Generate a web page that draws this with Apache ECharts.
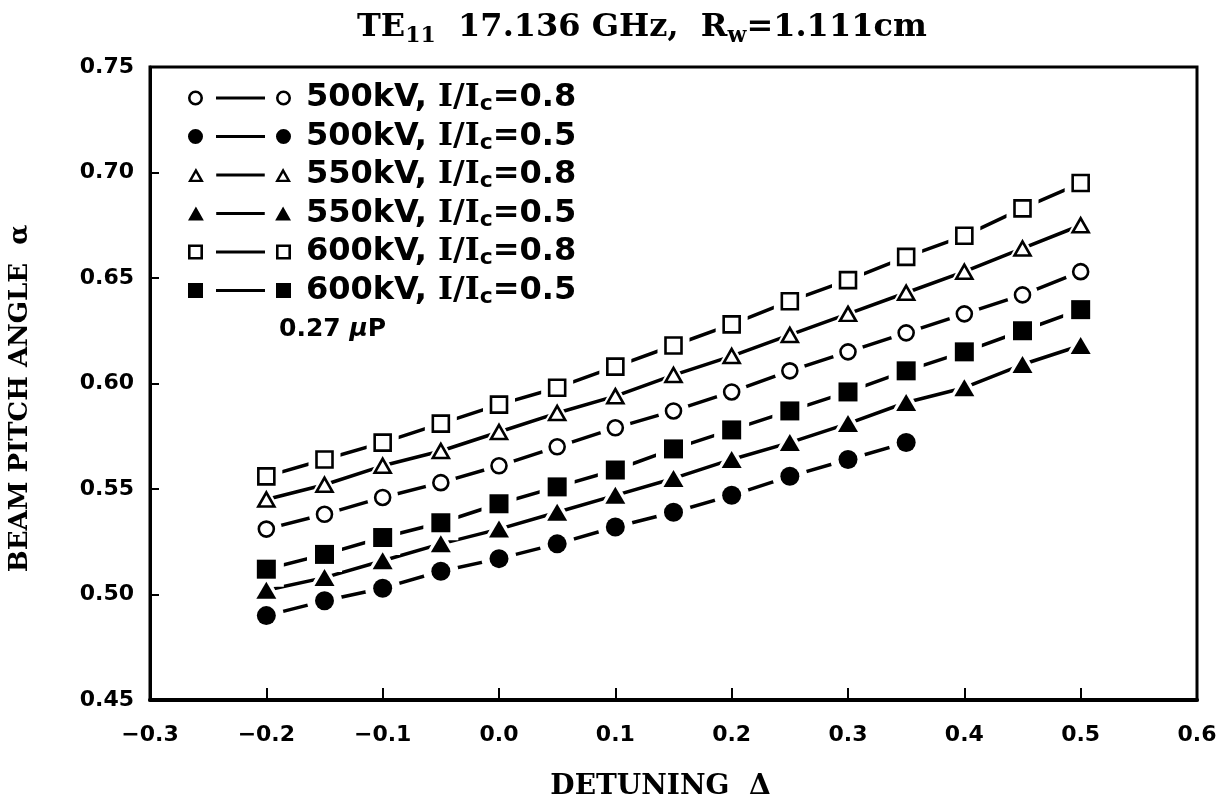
<!DOCTYPE html>
<html><head><meta charset="utf-8">
<script src="https://cdn.jsdelivr.net/npm/echarts@6/dist/echarts.min.js"></script>
<style>html,body{margin:0;padding:0;background:#fff}#c{width:1222px;height:805px}</style>
</head><body><div id="c"></div>
<script>
// ---- data ----
const detuning = [-0.2, -0.15, -0.1, -0.05, 0, 0.05, 0.1, 0.15, 0.2, 0.25, 0.3, 0.35, 0.4, 0.45, 0.5];
const a500_08 = [0.531, 0.538, 0.546, 0.553, 0.561, 0.570, 0.579, 0.587, 0.596, 0.606, 0.615, 0.624, 0.633, 0.642, 0.653];
const a500_05 = [0.490, 0.497, 0.503, 0.511, 0.517, 0.524, 0.532, 0.539, 0.547, 0.556, 0.564, 0.572];
const a550_08 = [0.545, 0.552, 0.561, 0.568, 0.577, 0.586, 0.594, 0.604, 0.613, 0.623, 0.633, 0.643, 0.653, 0.664, 0.675];
const a550_05 = [0.502, 0.508, 0.516, 0.524, 0.531, 0.539, 0.547, 0.555, 0.564, 0.572, 0.581, 0.591, 0.598, 0.609, 0.618];
const a600_08 = [0.556, 0.564, 0.572, 0.581, 0.590, 0.598, 0.608, 0.618, 0.628, 0.639, 0.649, 0.660, 0.670, 0.683, 0.695];
const a600_05 = [0.512, 0.519, 0.527, 0.534, 0.543, 0.551, 0.559, 0.569, 0.578, 0.587, 0.596, 0.606, 0.615, 0.625, 0.635];
const seriesNames = ['500kV, I/Ic=0.8', '500kV, I/Ic=0.5', '550kV, I/Ic=0.8', '550kV, I/Ic=0.5', '600kV, I/Ic=0.8', '600kV, I/Ic=0.5'];
const seriesValues = [a500_08, a500_05, a550_08, a550_05, a600_08, a600_05];
const xTicks = [-0.3, -0.2, -0.1, 0.0, 0.1, 0.2, 0.3, 0.4, 0.5, 0.6];
const yTicks = [0.45, 0.50, 0.55, 0.60, 0.65, 0.70, 0.75];
const titleText = 'TE{sub|11}  17.136 GHz,  R{sub|w}=1.111cm';
const noteText = '0.27 {mu|μ}P';
const xName = 'DETUNING  Δ';
const yName = 'BEAM PITCH ANGLE  α';

// ---- styles ----
const shapes = [
  {symbol:'circle', open:true}, {symbol:'circle', open:false},
  {symbol:'triangle', open:true}, {symbol:'triangle', open:false},
  {symbol:'rect', open:true}, {symbol:'rect', open:false}
];
function symSize(s){
  if (s.symbol==='circle') return s.open ? 15 : 19;
  if (s.symbol==='triangle') return s.open ? [16,14] : [20,17];
  return s.open ? 16 : 19;
}
function grow(sz, d){ return Array.isArray(sz) ? [sz[0]+d, sz[1]+d] : sz + d; }
function shapePath(kind, open, ox){
  let p = '';
  const X = v => (v + ox);
  if (kind==='circle'){
    p += `M${X(0)},7.5 A7.5,7.5 0 1,1 ${X(15)},7.5 A7.5,7.5 0 1,1 ${X(0)},7.5 Z `;
    if (open) p += `M${X(2.6)},7.5 A4.9,4.9 0 1,0 ${X(12.4)},7.5 A4.9,4.9 0 1,0 ${X(2.6)},7.5 Z `;
  } else if (kind==='rect'){
    p += `M${X(0)},0 L${X(15)},0 L${X(15)},15 L${X(0)},15 Z `;
    if (open) p += `M${X(2.6)},2.6 L${X(2.6)},12.4 L${X(12.4)},12.4 L${X(12.4)},2.6 Z `;
  } else {
    p += `M${X(7.5)},0.5 L${X(15.5)},14.5 L${X(-0.5)},14.5 Z `;
    if (open) p += `M${X(7.5)},5.6 L${X(3.6)},12.2 L${X(11.4)},12.2 Z `;
  }
  return p;
}
function legendIcon(s){
  return 'path://' + shapePath(s.symbol, s.open, 0) + 'M28,6 L77,6 L77,9 L28,9 Z ' + shapePath(s.symbol, s.open, 88);
}

const series = [];
// connecting lines; their own white symbols act as halos that open a gap round each marker
seriesNames.forEach((name, i) => {
  const data = seriesValues[i].map((v, k) => [detuning[k], v]);
  const s = shapes[i];
  series.push({
    name: name + ' line', type:'line', data, showSymbol:true, showAllSymbol:true,
    symbol:s.symbol, symbolSize: grow(symSize(s), 16), z:2,
    itemStyle:{color:'#fff', borderWidth:0, opacity:1},
    lineStyle:{color:'#000', width:3.5}, silent:true
  });
});
seriesNames.forEach((name, i) => {
  const data = seriesValues[i].map((v, k) => [detuning[k], v]);
  const s = shapes[i];
  series.push({
    name, type:'scatter', data, symbol:s.symbol, symbolSize: symSize(s), z:5,
    itemStyle: s.open ? {color:'#fff', borderColor:'#000', borderWidth:2.6, opacity:1}
                      : {color:'#000', borderWidth:0, opacity:1}
  });
});

const chart = echarts.init(document.getElementById('c'), null, {renderer:'canvas'});
const sansBold = {fontFamily:'DejaVu Sans', fontWeight:'bold', color:'#000'};
const serifBold = {fontFamily:'DejaVu Serif', fontWeight:'bold', color:'#000'};
chart.setOption({
  animation:false,
  backgroundColor:'#fff',
  title:{
    text: titleText, left: 352, top: 4,
    textStyle:Object.assign({fontSize:32, rich:{
      sub:Object.assign({fontSize:22, padding:[16,0,0,0]}, serifBold)
    }}, serifBold)
  },
  graphic:[{
    type:'text', left: 279, top: 317,
    style:{text: noteText, font:'bold 25px "DejaVu Sans"', fill:'#000',
      rich:{mu:{fontFamily:'DejaVu Sans', fontStyle:'italic', fontWeight:'bold', fontSize:25, fill:'#000'}}}
  }],
  legend:{
    orient:'vertical', left:183, top:77, itemWidth:103, itemHeight:15, itemGap:5,
    selectedMode:false,
    itemStyle:{color:'#000', borderWidth:0},
    data: seriesNames.map((n, i) => ({name:n, icon: legendIcon(shapes[i]), itemStyle:{color:'#000', borderWidth:0}})),
    formatter: n => n.replace('I/Ic', '{s|I/I}{sub|c}'),
    textStyle: Object.assign({fontSize:32, lineHeight:32, padding:[0,0,0,10], rich:{
      s: Object.assign({fontSize:32}, serifBold),
      sub: Object.assign({fontSize:22, padding:[13,0,0,0]}, sansBold)
    }}, sansBold)
  },
  grid:{left:150, right:25, top:67, bottom:105, show:true, borderColor:'#000', borderWidth:3,
        containLabel:false, outerBoundsMode:'none'},
  xAxis:{
    type:'value', min: xTicks[0], max: xTicks[xTicks.length-1], interval:0.1,
    name:xName, nameLocation:'middle', nameGap:73,
    nameTextStyle: Object.assign({fontSize:28, padding:[0,26,0,0]}, serifBold),
    axisLine:{show:true, onZero:false, lineStyle:{color:'#000', width:4}},
    axisTick:{show:true, inside:true, length:12, lineStyle:{color:'#000', width:2}},
    axisLabel: Object.assign({fontSize:22, margin:24, formatter: v => (Math.abs(v) < 1e-9 ? 0 : v).toFixed(1).replace('-', '\u2212')}, sansBold),
    splitLine:{show:false}
  },
  yAxis:{
    type:'value', min: yTicks[0], max: yTicks[yTicks.length-1], interval:0.05,
    name:yName, nameLocation:'middle', nameGap:117,
    nameTextStyle: Object.assign({fontSize:26, padding:[0,30,0,0]}, serifBold),
    axisLine:{show:true, onZero:false, lineStyle:{color:'#000', width:3}},
    axisTick:{show:true, inside:true, length:9, lineStyle:{color:'#000', width:2}},
    axisLabel: Object.assign({fontSize:22, margin:16, formatter: v => v.toFixed(2)}, sansBold),
    splitLine:{show:false}
  },
  series
});
</script>
</body></html>
